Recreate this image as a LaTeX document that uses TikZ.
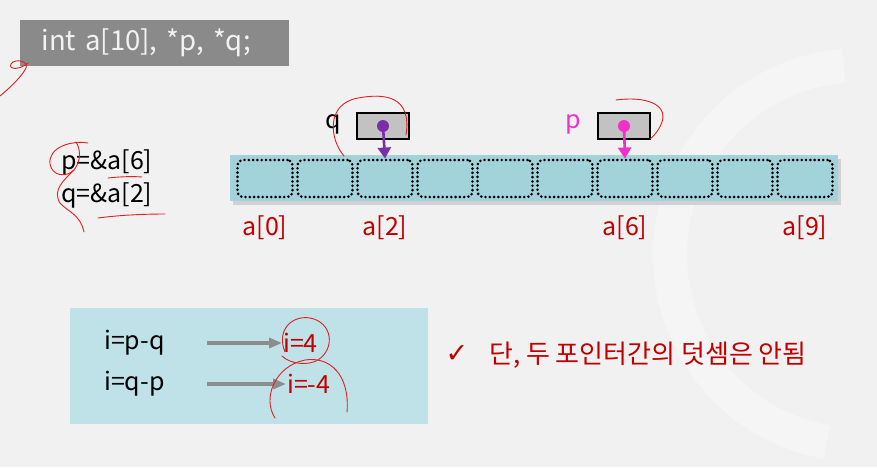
\documentclass[tikz,border=0pt]{standalone}
\usepackage{fontspec}
\setmainfont{Noto Sans CJK KR}
\newfontfamily\symfont{DejaVu Sans}
\usetikzlibrary{arrows.meta, positioning}
\definecolor{bgcol}{HTML}{F1F1F1}
\definecolor{stripcol}{HTML}{A2D2DA}
\definecolor{boxcol}{HTML}{BFE2E9}
\definecolor{codecol}{HTML}{8A8A8A}
\definecolor{darkred}{HTML}{C00000}
\definecolor{qcol}{HTML}{7A2FA8}
\definecolor{pcol}{HTML}{F030C8}
\definecolor{pencol}{HTML}{E02020}

\begin{document}
\begin{tikzpicture}[x=1pt,y=-1pt,
  cell/.style={draw=black,line width=2.9pt,dash pattern=on 0pt off 4.3pt,line cap=round,
    rounded corners=5pt,minimum width=55pt,minimum height=37pt,inner sep=0pt},
  idx/.style={text=darkred,font=\fontsize{25}{28}\selectfont,inner sep=1pt},
  ptrbox/.style={draw=black,line width=2.2pt,fill=black!24,minimum width=52pt,minimum height=26pt,inner sep=0pt},
  ptrdot/.style={circle,minimum size=12pt,inner sep=0pt},
  ptrarrow/.style={line width=2.6pt,-{Triangle[length=11pt,width=13pt]}},
  grayarrow/.style={draw=black!45,line width=3.2pt,-{Triangle[length=13pt,width=10pt]}},
  txt/.style={font=\fontsize{25}{28}\selectfont,inner sep=1pt},
  redpen/.style={draw=pencol,line width=0.9pt,line cap=round}]
\useasboundingbox (0,0) rectangle (877,467);
\fill[bgcol] (0,0) rectangle (877,467);
% faint ring in the back
\draw[white,opacity=0.3,line width=34pt] (860,255) ++(100:190) arc (100:265:190);

% declaration
\node[fill=codecol,minimum width=269pt,minimum height=46pt,text width=226pt,align=left,
  text=white!95!black,font=\fontsize{27.5}{30}\selectfont] (decl) at (154.5,43) {int a[10], *p, *q;};

% array strip with cells
\fill[black!18] (233,159) rectangle (841,205);
\fill[stripcol] (230,155) rectangle (838,201);
\foreach \i in {0,...,9}
  \node[cell] (c\i) at ({265+60*\i},178.5) {};

\node[idx,below=16pt of c0] (a0) {a[0]};
\node[idx,below=16pt of c2] (a2) {a[2]};
\node[idx,below=16pt of c6] (a6) {a[6]};
\node[idx,below=16pt of c9] (a9) {a[9]};

% pointers
\node[ptrbox] (qbox) at (383,126) {};
\node[ptrbox] (pbox) at (624,126) {};
\node[ptrdot,fill=qcol] (qdot) at (qbox.center) {};
\node[ptrdot,fill=pcol] (pdot) at (pbox.center) {};
\draw[ptrarrow,qcol] (qdot.center) -- (c2.north);
\draw[ptrarrow,pcol] (pdot.center) -- (c6.north);
\node[txt] (qname) at (333,124) {q};
\node[txt,text=pcol] (pname) at (573,124) {p};

% assignments
\node[txt,anchor=west] (pasg) at (60,162) {p=\&a[6]};
\node[txt,anchor=west] (qasg) at (60,195) {q=\&a[2]};

% differences
\fill[boxcol] (70,308) rectangle (428,424);
\node[txt,anchor=west] (d1) at (103,343) {i=p-q};
\node[txt,anchor=west] (d2) at (103,384) {i=q-p};
\node[txt,text=darkred,anchor=west] (r1) at (282,343) {i=4};
\node[txt,text=darkred,anchor=west] (r2) at (286,384) {i=-4};
\coordinate (g1) at (207,343);
\coordinate (g2) at (207,384);
\draw[grayarrow] (g1) -- (g1 -| r1.west);
\draw[grayarrow] (g2) -- (g2 -| r2.west);

% note
\node[text=darkred,font=\symfont\fontsize{27}{30}\selectfont] (chk) at (457,354) {✓};
\node[txt,text=darkred,anchor=west,font=\fontsize{26}{29}\selectfont] (note) at (488,355) {단, 두 포인터간의 덧셈은 안됨};

% pen marks
\draw[redpen] (0,96) .. controls (12,86) and (22,76) .. (26,68) .. controls (29,61) and (15,58) .. (11,64) .. controls (8,70) and (20,70) .. (28,63);
\draw[redpen] (344,156) .. controls (330,140) and (325,104) .. (358,98) .. controls (385,93) and (412,96) .. (406,135);
\draw[redpen] (616,100) .. controls (645,96) and (668,104) .. (662,122) .. controls (659,130) and (655,135) .. (650,139);
\draw[redpen] (88,143) .. controls (70,140) and (48,148) .. (50,164) .. controls (52,176) and (66,178) .. (74,170) .. controls (82,160) and (80,148) .. (76,142);
\draw[redpen] (74,170) .. controls (64,180) and (52,190) .. (60,203) .. controls (68,212) and (80,214) .. (84,232);
\draw[redpen] (108,178) .. controls (118,177) and (130,176) .. (142,177);
\draw[redpen] (98,218) .. controls (120,215) and (145,214) .. (165,214);
\draw[redpen] (285,352) .. controls (276,330) and (292,315) .. (310,318) .. controls (332,322) and (336,348) .. (318,360) .. controls (308,366) and (290,364) .. (282,356);
\draw[redpen] (275,418) .. controls (262,398) and (275,366) .. (305,360) .. controls (330,356) and (350,375) .. (347,412);
\end{tikzpicture}
\end{document}
